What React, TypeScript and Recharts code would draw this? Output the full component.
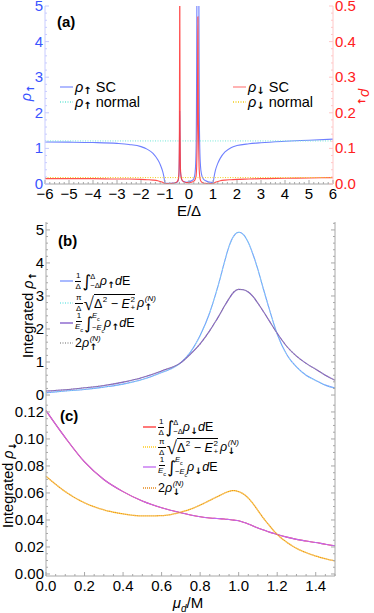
import React from 'react';
import { LineChart, Line, XAxis, YAxis } from 'recharts';

// panel (a): spin-resolved DOS against E/Δ
const energy = [
  -6, -5, -4, -3, -2.5, -2, -1.75, -1.5, -1.3, -1.2, -1.1, -1.05, -1.0, -0.9, -0.8, -0.7, -0.6, -0.5,
  -0.45, -0.42, -0.41, -0.4, -0.39, -0.385, -0.38, -0.37, -0.36, -0.35, -0.32, -0.28, -0.2, -0.1, 0,
  0.1, 0.2, 0.25, 0.28, 0.3, 0.31, 0.32, 0.33, 0.35, 0.36, 0.37, 0.38, 0.39, 0.41, 0.42, 0.43, 0.45,
  0.48, 0.52, 0.6, 0.7, 0.8, 0.9, 1.0, 1.05, 1.1, 1.2, 1.3, 1.5, 1.75, 2, 2.5, 3, 4, 5, 6,
];
const rhoUpSC = [
  1.18, 1.175, 1.165, 1.14, 1.11, 1.05, 0.98, 0.86, 0.68, 0.55, 0.36, 0.22, 0.03, 0.02, 0.02, 0.025, 0.03, 0.05,
  0.1, 0.25, 0.45, 0.9, 1.7, 2.05, 1.7, 0.9, 0.45, 0.3, 0.16, 0.1, 0.06, 0.05, 0.06,
  0.09, 0.15, 0.3, 0.6, 1.2, 2, 3.5, 5.5, 8, 8.8, 9, 8.8, 8, 5.5, 3.5, 2, 1.0,
  0.5, 0.28, 0.14, 0.09, 0.06, 0.05, 0.04, 0.22, 0.38, 0.58, 0.72, 0.9, 1.02, 1.08, 1.13, 1.16, 1.2, 1.23, 1.26,
];
const rhoDownSC = [
  0.015, 0.015, 0.015, 0.014, 0.014, 0.013, 0.012, 0.011, 0.009, 0.007, 0.005, 0.003, 0.001, 0.001, 0.001, 0.002, 0.003, 0.006,
  0.012, 0.03, 0.06, 0.15, 0.45, 0.8, 0.45, 0.15, 0.06, 0.035, 0.018, 0.01, 0.006, 0.004, 0.004,
  0.005, 0.008, 0.012, 0.018, 0.025, 0.035, 0.05, 0.08, 0.2, 0.35, 0.47, 0.35, 0.2, 0.08, 0.05, 0.035, 0.02,
  0.01, 0.006, 0.003, 0.002, 0.001, 0.001, 0.001, 0.003, 0.005, 0.007, 0.009, 0.011, 0.012, 0.013, 0.014, 0.015, 0.016, 0.017, 0.018,
];
const rhoUpNormal = 1.21;
const rhoDownNormal = 0.018;

// panels (b) and (c): integrated DOS against μd/M
const mu = [
  0, 0.1, 0.2, 0.3, 0.4, 0.5, 0.6, 0.7, 0.75, 0.8, 0.85, 0.875, 0.9, 0.925, 0.95, 0.975, 1.0,
  1.025, 1.05, 1.075, 1.1, 1.125, 1.15, 1.2, 1.25, 1.3, 1.35, 1.4, 1.45, 1.5,
];
const intUpDelta = [
  0.07, 0.12, 0.17, 0.24, 0.33, 0.47, 0.68, 0.98, 1.3, 1.8, 2.5, 2.95, 3.45, 4.0, 4.5, 4.82, 4.93,
  4.86, 4.62, 4.25, 3.8, 3.28, 2.78, 1.85, 1.22, 0.85, 0.6, 0.44, 0.3, 0.21,
];
const sqrtUpN = [
  0.07, 0.12, 0.17, 0.24, 0.33, 0.47, 0.68, 0.98, 1.3, 1.8, 2.5, 2.95, 3.45, 4.0, 4.5, 4.82, 4.93,
  4.86, 4.62, 4.25, 3.8, 3.28, 2.78, 1.85, 1.22, 0.85, 0.6, 0.44, 0.3, 0.21,
];
const intUpEc = [
  0.12, 0.16, 0.22, 0.29, 0.39, 0.53, 0.73, 0.98, 1.24, 1.55, 1.95, 2.18, 2.42, 2.68, 2.92, 3.12, 3.2,
  3.19, 3.12, 2.98, 2.78, 2.56, 2.33, 1.87, 1.47, 1.18, 0.96, 0.78, 0.6, 0.45,
];
const twoUpN = [
  0.12, 0.16, 0.22, 0.29, 0.39, 0.53, 0.73, 0.98, 1.24, 1.55, 1.95, 2.18, 2.42, 2.68, 2.92, 3.12, 3.2,
  3.19, 3.12, 2.98, 2.78, 2.56, 2.33, 1.87, 1.47, 1.18, 0.96, 0.78, 0.6, 0.45,
];
const intDownDelta = [
  0.121, 0.101, 0.083, 0.07, 0.061, 0.054, 0.049, 0.0453, 0.0437, 0.0424, 0.0415, 0.0412, 0.041, 0.0407, 0.0403, 0.0399, 0.0394,
  0.0383, 0.037, 0.0355, 0.034, 0.0328, 0.0315, 0.0293, 0.0273, 0.0256, 0.0244, 0.0233, 0.022, 0.0209,
];
const sqrtDownN = [
  0.0724, 0.061, 0.0527, 0.0475, 0.0445, 0.043, 0.0432, 0.0458, 0.048, 0.051, 0.0545, 0.0563, 0.058, 0.0598, 0.0612, 0.0618, 0.061,
  0.0592, 0.0562, 0.052, 0.047, 0.042, 0.0375, 0.0293, 0.0235, 0.019, 0.0158, 0.0133, 0.0113, 0.0096,
];
const intDownEc = [
  0.121, 0.101, 0.083, 0.07, 0.061, 0.054, 0.049, 0.0453, 0.0437, 0.0424, 0.0415, 0.0412, 0.041, 0.0407, 0.0403, 0.0399, 0.0394,
  0.0383, 0.037, 0.0355, 0.034, 0.0328, 0.0315, 0.0293, 0.0273, 0.0256, 0.0244, 0.0233, 0.022, 0.0209,
];
const twoDownN = [
  0.0724, 0.061, 0.0527, 0.0475, 0.0445, 0.043, 0.0432, 0.0458, 0.048, 0.051, 0.0545, 0.0563, 0.058, 0.0598, 0.0612, 0.0618, 0.061,
  0.0592, 0.0562, 0.052, 0.047, 0.042, 0.0375, 0.0293, 0.0235, 0.019, 0.0158, 0.0133, 0.0113, 0.0096,
];

// tick labels
const eTicks = [-6, -5, -4, -3, -2, -1, 0, 1, 2, 3, 4, 5, 6];
const upTicks = [0, 1, 2, 3, 4, 5];
const downTicks = [0, 0.1, 0.2, 0.3, 0.4, 0.5];
const muTicks = [0, 0.2, 0.4, 0.6, 0.8, 1.0, 1.2, 1.4];
const intUpTicks = [0, 1, 2, 3, 4, 5];
const intDownTicks = [0, 0.02, 0.04, 0.06, 0.08, 0.1, 0.12];

const dataA = energy.map((e, i) => ({ e, up: rhoUpSC[i], upN: rhoUpNormal, down: rhoDownSC[i], downN: rhoDownNormal }));
const dataB = mu.map((m, i) => ({ m, a: intUpDelta[i], b: sqrtUpN[i], c: intUpEc[i], d: twoUpN[i] }));
const dataC = mu.map((m, i) => ({ m, a: intDownDelta[i], b: sqrtDownN[i], c: intDownEc[i], d: twoDownN[i] }));

const FONT = '"Liberation Sans", Arial, sans-serif';
const GRAY = '#a8a8a8';

const range = (a: number, b: number, s: number) => {
  const out: number[] = [];
  for (let v = a; v <= b + 1e-9; v += s) out.push(Math.round(v * 1e6) / 1e6);
  return out;
};

type Side = 'bottom' | 'top' | 'left' | 'right';
const makeTick =
  (side: Side, labels: number[], fmt?: (v: number) => string, color = '#000', stroke = GRAY) =>
  (p: any) => {
    const { x, y, payload } = p;
    const v = payload.value as number;
    const major = labels.some((t) => Math.abs(t - v) < 1e-7);
    const len = major ? 4 : 2;
    let line: React.ReactNode = null;
    let txt: React.ReactNode = null;
    const ts = { fontFamily: FONT, fontSize: 15, fill: color };
    if (side === 'bottom') {
      line = <line x1={x} x2={x} y1={y} y2={y - len} stroke={stroke} />;
      if (major && fmt) txt = <text x={x} y={y + 15} textAnchor="middle" style={ts}>{fmt(v)}</text>;
    } else if (side === 'top') {
      line = <line x1={x} x2={x} y1={y} y2={y + len} stroke={stroke} />;
    } else if (side === 'left') {
      line = <line x1={x} x2={x + len} y1={y} y2={y} stroke={stroke} />;
      if (major && fmt) txt = <text x={x - 2} y={y + 5} textAnchor="end" style={ts}>{fmt(v)}</text>;
    } else {
      line = <line x1={x} x2={x - len} y1={y} y2={y} stroke={stroke} />;
      if (major && fmt) txt = <text x={x + 2} y={y + 5} textAnchor="start" style={ts}>{fmt(v)}</text>;
    }
    return (
      <g>
        {line}
        {txt}
      </g>
    );
  };

const signed = (v: number) => (v < 0 ? '\u2212' + Math.abs(v) : String(v));

const Swatch = ({ color, dash, w = 13 }: { color: string; dash?: string; w?: number }) => (
  <svg width={w} height={4} style={{ display: 'block', marginRight: 2 }}>
    <line x1={0} x2={w} y1={2} y2={2} stroke={color} strokeWidth={1.3} strokeDasharray={dash} />
  </svg>
);

const Frac = ({ n, d }: { n: React.ReactNode; d: React.ReactNode }) => (
  <span style={{ display: 'inline-flex', flexDirection: 'column', alignItems: 'center', fontSize: 8, lineHeight: '8px', marginRight: 1 }}>
    <span style={{ borderBottom: '0.8px solid #000', padding: '0 1px 1px' }}>{n}</span>
    <span style={{ paddingTop: 1 }}>{d}</span>
  </span>
);

const Integral = ({ lo, hi }: { lo: React.ReactNode; hi: React.ReactNode }) => (
  <span style={{ display: 'inline-flex', alignItems: 'center' }}>
    <span style={{ fontSize: 17, lineHeight: '18px', fontFamily: '"DejaVu Sans"' }}>∫</span>
    <span style={{ display: 'inline-flex', flexDirection: 'column', fontSize: 7.5, lineHeight: '9px', marginLeft: -1 }}>
      <span>{hi}</span>
      <span>{lo}</span>
    </span>
  </span>
);

const Stack = ({ sup, sub }: { sup: React.ReactNode; sub: React.ReactNode }) => (
  <span style={{ display: 'inline-flex', flexDirection: 'column', fontSize: 8, lineHeight: '8px', marginLeft: 0.5 }}>
    <span>{sup}</span>
    <span>{sub}</span>
  </span>
);

const Rho = ({ arrow, n }: { arrow: string; n?: boolean }) => (
  <span style={{ display: 'inline-flex', alignItems: 'center' }}>
    <i>ρ</i>
    <Stack sup={n ? <i>(N)</i> : '\u00a0'} sub={<b style={{ fontSize: 9, fontFamily: '"DejaVu Sans"' }}>{arrow}</b>} />
  </span>
);

const Ec = () => (
  <span>
    <i>E</i>
    <span style={{ fontSize: '70%', verticalAlign: 'sub' }}>c</span>
  </span>
);

const Sqrt = ({ children }: { children: React.ReactNode }) => (
  <span style={{ display: 'inline-flex', alignItems: 'flex-end' }}>
    <span style={{ fontSize: 19, lineHeight: '20px', fontFamily: '"DejaVu Sans"', fontWeight: 300 }}>√</span>
    <span style={{ borderTop: '0.9px solid #000', display: 'inline-flex', alignItems: 'center', paddingTop: 1, marginBottom: 1 }}>{children}</span>
  </span>
);

const formulaRows = (arrow: string) => [
  <>
    <Frac n="1" d="Δ" />
    <Integral lo="−Δ" hi="Δ" />
    <Rho arrow={arrow} />
    <i>d</i>E
  </>,
  <>
    <Frac n="π" d="Δ" />
    <Sqrt>
      Δ<Stack sup="2" sub={'\u00a0'} />&nbsp;−&nbsp;<i>E</i>
      <Stack sup="2" sub="+" />
    </Sqrt>
    <span style={{ marginLeft: 2 }}>
      <Rho arrow={arrow} n />
    </span>
  </>,
  <>
    <Frac n="1" d={<Ec />} />
    <Integral lo={<>−<Ec /></>} hi={<Ec />} />
    <Rho arrow={arrow} />
    <i>d</i>E
  </>,
  <>
    2<Rho arrow={arrow} n />
  </>,
];

const FormulaLegend = ({ left, tops, colors, dashes, arrow }: { left: number; tops: number[]; colors: string[]; dashes: (string | undefined)[]; arrow: string }) => (
  <>
    {formulaRows(arrow).map((row, i) => (
      <div
        key={i}
        style={{
          position: 'absolute',
          left,
          top: tops[i] - 10,
          height: 20,
          display: 'flex',
          alignItems: 'center',
          fontFamily: FONT,
          fontSize: 12.5,
          whiteSpace: 'nowrap',
          color: '#000',
        }}
      >
        <Swatch color={colors[i]} dash={dashes[i]} />
        {row}
      </div>
    ))}
  </>
);

const Arrow = ({ a }: { a: string }) => (
  <span style={{ fontSize: 10, fontWeight: 'bold', fontFamily: '"DejaVu Sans"', position: 'relative', top: 3 }}>{a}</span>
);

const SimpleRow = ({ left, top, color, dash, children }: { left: number; top: number; color: string; dash?: string; children: React.ReactNode }) => (
  <div style={{ position: 'absolute', left, top: top - 9, height: 18, display: 'flex', alignItems: 'center', fontFamily: FONT, fontSize: 14.5, whiteSpace: 'nowrap' }}>
    <Swatch color={color} dash={dash} />
    {children}
  </div>
);

const RotLabel = ({ x, y, deg, color = '#000', children }: { x: number; y: number; deg: number; color?: string; children: React.ReactNode }) => (
  <div
    style={{
      position: 'absolute',
      left: x,
      top: y,
      transform: `translate(-50%, -50%) rotate(${deg}deg)`,
      fontFamily: FONT,
      fontSize: 14.5,
      color,
      whiteSpace: 'nowrap',
    }}
  >
    {children}
  </div>
);

const Tag = ({ x, y, children }: { x: number; y: number; children: React.ReactNode }) => (
  <div style={{ position: 'absolute', left: x, top: y, fontFamily: FONT, fontSize: 15, fontWeight: 'bold' }}>{children}</div>
);

const BLUE = '#6f80ff';
const CYAN = '#6fe6d6';
const RED = '#ff3b3b';
const YELLOW = '#f2cc1a';

const PanelA = () => (
  <LineChart width={374} height={216} data={dataA} margin={{ top: 6, right: 0, bottom: 0, left: 0 }}>
    <XAxis xAxisId="b" dataKey="e" type="number" domain={[-6, 6]} ticks={range(-6, 6, 0.2)} interval={0} tickSize={0} tickMargin={0} tickLine={false} axisLine={{ stroke: GRAY }} height={32} tick={makeTick('bottom', eTicks, signed)} />
    <XAxis xAxisId="t" dataKey="e" type="number" orientation="top" domain={[-6, 6]} ticks={range(-6, 6, 0.2)} interval={0} tickSize={0} tickMargin={0} tickLine={false} axisLine={{ stroke: '#d0d0d0' }} height={0} tick={makeTick('top', eTicks)} />
    <YAxis yAxisId="l" type="number" domain={[0, 5]} allowDataOverflow ticks={range(0, 5, 0.2)} interval={0} tickSize={0} tickMargin={0} tickLine={false} axisLine={{ stroke: '#c8ccff' }} width={45} tick={makeTick('left', upTicks, (v) => String(v), '#3a55ff', '#c8ccff')} />
    <YAxis yAxisId="r" type="number" orientation="right" domain={[0, 0.5]} allowDataOverflow ticks={range(0, 0.5, 0.02)} interval={0} tickSize={0} tickMargin={0} tickLine={false} axisLine={{ stroke: '#ffc8c8' }} width={41} tick={makeTick('right', downTicks, (v) => v.toFixed(1), '#ff2020', '#ffc8c8')} />
    <Line xAxisId="b" yAxisId="l" dataKey="up" type="monotone" stroke={BLUE} strokeWidth={1.1} dot={false} isAnimationActive={false} />
    <Line xAxisId="b" yAxisId="l" dataKey="upN" type="linear" stroke={CYAN} strokeWidth={1} strokeDasharray="1 1.5" dot={false} isAnimationActive={false} />
    <Line xAxisId="b" yAxisId="r" dataKey="down" type="monotone" stroke={RED} strokeWidth={1.1} strokeOpacity={0.9} dot={false} isAnimationActive={false} />
    <Line xAxisId="b" yAxisId="r" dataKey="downN" type="linear" stroke={YELLOW} strokeWidth={1} strokeDasharray="1 1.5" dot={false} isAnimationActive={false} />
  </LineChart>
);

const B_COLORS = ['#7b95ff', '#7ee8e8', '#7d55c8', '#9a9a9a'];
const B_DASH = [undefined, '1 1.5', undefined, '1 1.5'];
const C_COLORS = ['#ff3030', '#ffcc1e', '#c068f0', '#e88a1c'];
const C_DASH = [undefined, '1 1', undefined, '1 1'];

const PanelB = () => (
  <LineChart width={374} height={190} data={dataB} margin={{ top: 7, right: 0, bottom: 6, left: 0 }}>
    <XAxis xAxisId="b" dataKey="m" type="number" domain={[0, 1.5]} ticks={range(0, 1.5, 0.05)} interval={0} tickSize={0} tickMargin={0} tickLine={false} axisLine={{ stroke: GRAY }} height={0} tick={makeTick('bottom', muTicks)} />
    <XAxis xAxisId="t" dataKey="m" type="number" orientation="top" domain={[0, 1.5]} ticks={range(0, 1.5, 0.05)} interval={0} tickSize={0} tickMargin={0} tickLine={false} axisLine={{ stroke: GRAY }} height={0} tick={makeTick('top', muTicks)} />
    <YAxis yAxisId="l" type="number" domain={[-0.12, 5.24]} allowDataOverflow ticks={range(0, 5.2, 0.2)} interval={0} tickSize={0} tickMargin={0} tickLine={false} axisLine={{ stroke: GRAY }} width={46} tick={makeTick('left', intUpTicks, (v) => String(v))} />
    <YAxis yAxisId="r" type="number" orientation="right" domain={[-0.12, 5.24]} allowDataOverflow ticks={range(0, 5.2, 0.2)} interval={0} tickSize={0} tickMargin={0} tickLine={false} axisLine={{ stroke: GRAY }} width={39} tick={makeTick('right', intUpTicks)} />
    {(['a', 'b', 'c', 'd'] as const).map((k, i) => (
      <Line key={k} xAxisId="b" yAxisId="l" dataKey={k} type="monotone" stroke={B_COLORS[i]} strokeWidth={1.1} strokeDasharray={B_DASH[i]} dot={false} isAnimationActive={false} />
    ))}
  </LineChart>
);

const PanelC = () => (
  <LineChart width={374} height={214} data={dataC} margin={{ top: 0, right: 0, bottom: 0, left: 0 }}>
    <XAxis xAxisId="b" dataKey="m" type="number" domain={[0, 1.5]} ticks={range(0, 1.5, 0.05)} interval={0} tickSize={0} tickMargin={0} tickLine={false} axisLine={{ stroke: GRAY }} height={37} tick={makeTick('bottom', muTicks, (v) => v.toFixed(1))} />
    <XAxis xAxisId="t" dataKey="m" type="number" orientation="top" domain={[0, 1.5]} ticks={range(0, 1.5, 0.05)} interval={0} tickSize={0} tickMargin={0} tickLine={false} axisLine={{ stroke: GRAY }} height={0} tick={makeTick('top', muTicks)} />
    <YAxis yAxisId="l" type="number" domain={[-0.0015, 0.1296]} allowDataOverflow ticks={range(0, 0.125, 0.005)} interval={0} tickSize={0} tickMargin={0} tickLine={false} axisLine={{ stroke: GRAY }} width={46} tick={makeTick('left', intDownTicks, (v) => v.toFixed(2))} />
    <YAxis yAxisId="r" type="number" orientation="right" domain={[-0.0015, 0.1296]} allowDataOverflow ticks={range(0, 0.125, 0.005)} interval={0} tickSize={0} tickMargin={0} tickLine={false} axisLine={{ stroke: GRAY }} width={39} tick={makeTick('right', intDownTicks)} />
    {(['a', 'b', 'c', 'd'] as const).map((k, i) => (
      <Line
        key={k}
        xAxisId="b"
        yAxisId="l"
        dataKey={k}
        type="monotone"
        stroke={C_COLORS[i]}
        strokeWidth={i === 1 || i === 3 ? 1.3 : 1.1}
        strokeDasharray={C_DASH[i]}
        strokeDashoffset={i === 3 ? 1 : 0}
        dot={false}
        isAnimationActive={false}
      />
    ))}
  </LineChart>
);

export default function App() {
  return (
    <div style={{ position: 'absolute', left: 0, top: 0, width: 374, height: 613, background: '#fff', overflow: 'hidden' }}>
      <div style={{ position: 'absolute', left: 0, top: 0 }}>
        <PanelA />
      </div>
      <div style={{ position: 'absolute', left: 0, top: 215 }}>
        <PanelB />
      </div>
      <div style={{ position: 'absolute', left: 0, top: 399 }}>
        <PanelC />
      </div>

      <Tag x={57} y={13}>(a)</Tag>
      <Tag x={58} y={232}>(b)</Tag>
      <Tag x={60} y={407}>(c)</Tag>

      <SimpleRow left={60} top={87} color="#8595ff">
        <i>ρ</i>
        <Arrow a="↑" />&nbsp;SC
      </SimpleRow>
      <SimpleRow left={60} top={102} color={CYAN} dash="1 1.5">
        <i>ρ</i>
        <Arrow a="↑" />&nbsp;normal
      </SimpleRow>
      <SimpleRow left={233} top={87} color="#ff8a8a">
        <i>ρ</i>
        <Arrow a="↓" />&nbsp;SC
      </SimpleRow>
      <SimpleRow left={233} top={102} color={YELLOW} dash="1 1.5">
        <i>ρ</i>
        <Arrow a="↓" />&nbsp;normal
      </SimpleRow>

      <RotLabel x={26} y={93} deg={-90} color="#3a55ff">
        <i>ρ</i>
        <Arrow a="↑" />
      </RotLabel>
      <RotLabel x={366} y={97} deg={90} color="#ff2020">
        <i>ρ</i>
        <Arrow a="↓" />
      </RotLabel>
      <div style={{ position: 'absolute', left: 189, top: 210, transform: 'translate(-50%, -50%)', fontFamily: FONT, fontSize: 15 }}>E/Δ</div>

      <RotLabel x={28} y={315} deg={-90}>
        Integrated <i>ρ</i>
        <Arrow a="↑" />
      </RotLabel>
      <RotLabel x={8} y={485} deg={-90}>
        Integrated <i>ρ</i>
        <Arrow a="↓" />
      </RotLabel>
      <div style={{ position: 'absolute', left: 188, top: 604, transform: 'translate(-50%, -50%)', fontFamily: FONT, fontSize: 15, whiteSpace: 'nowrap' }}>
        <i>μ</i>
        <i style={{ fontSize: 10, verticalAlign: 'sub' }}>d</i>/M
      </div>

      <FormulaLegend left={60} tops={[281, 303, 323, 343]} colors={B_COLORS} dashes={B_DASH} arrow="↑" />
      <FormulaLegend left={143} tops={[427, 447, 467, 488]} colors={C_COLORS} dashes={C_DASH} arrow="↓" />
    </div>
  );
}
